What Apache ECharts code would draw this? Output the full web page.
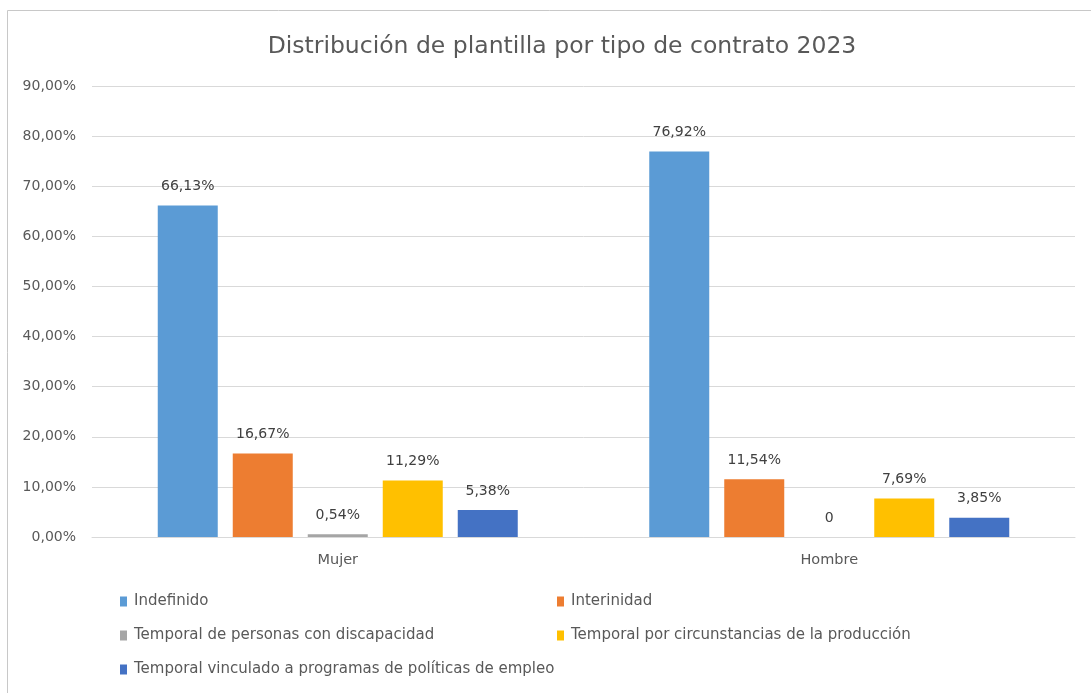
<!DOCTYPE html>
<html>
<head>
<meta charset="utf-8">
<script src="https://cdn.jsdelivr.net/npm/echarts@6/dist/echarts.min.js"></script>
<style>
  html, body { margin: 0; padding: 0; background: #fff; }
  #main { width: 1091px; height: 693px; }
</style>
</head>
<body>
<div id="main"></div>
<script>
// datos del gráfico
const categories = ['Mujer', 'Hombre']
const seriesNames = [
  'Indefinido',
  'Interinidad',
  'Temporal de personas con discapacidad',
  'Temporal por circunstancias de la producción',
  'Temporal vinculado a programas de políticas de empleo'
]
const indefinido = [66.13, 76.92]
const interinidad = [16.67, 11.54]
const discapacidad = [0.54, 0]
const circunstancias = [11.29, 7.69]
const politicasEmpleo = [5.38, 3.85]
const colors = ['#5B9BD5', '#ED7D31', '#A5A5A5', '#FFC000', '#4472C4']

const fontFamily = "'DejaVu Sans', sans-serif"
const textColor = '#595959'

const fmtPct = v => v.toFixed(2).replace('.', ',') + '%'

const myChart = echarts.init(document.getElementById('main'))

const seriesData = [indefinido, interinidad, discapacidad, circunstancias, politicasEmpleo]

// posiciones de la leyenda (2 columnas)
const legendPos = [
  [115, 589], [552, 589],
  [115, 623], [552, 623],
  [115, 657]
]

const option = {
  backgroundColor: '#fff',
  textStyle: { fontFamily: fontFamily },
  title: {
    text: 'Distribución de plantilla por tipo de contrato 2023',
    left: 557,
    top: 30,
    textAlign: 'center',
    textStyle: {
      fontFamily: fontFamily,
      fontSize: 23.5,
      fontWeight: 'normal',
      color: textColor
    }
  },
  graphic: [
    {
      type: 'rect',
      shape: { x: 7.5, y: 10.5, width: 1200, height: 800 },
      style: { fill: 'none', stroke: '#c8c8c8', lineWidth: 1 },
      silent: true
    }
  ],
  legend: seriesNames.map((name, i) => ({
    data: [name],
    left: legendPos[i][0],
    top: legendPos[i][1],
    icon: 'rect',
    itemWidth: 7,
    itemHeight: 10,
    itemGap: 4,
    selectedMode: false,
    textStyle: { color: textColor, fontSize: 15, fontFamily: fontFamily, padding: [0, 0, 0, 2] }
  })),
  grid: {
    left: 92,
    right: 16,
    top: 86,
    bottom: 156,
    containLabel: false
  },
  xAxis: {
    type: 'category',
    data: categories,
    axisLine: { lineStyle: { color: '#d9d9d9' } },
    axisTick: { show: false },
    axisLabel: { color: textColor, fontSize: 14.5, margin: 16 }
  },
  yAxis: {
    type: 'value',
    min: 0,
    max: 90,
    interval: 10,
    axisLine: { show: false },
    axisTick: { show: false },
    splitLine: { lineStyle: { color: '#d9d9d9' } },
    axisLabel: {
      color: textColor,
      fontSize: 14,
      margin: 16,
      formatter: v => fmtPct(v)
    }
  },
  series: seriesNames.map((name, i) => ({
    name: name,
    type: 'bar',
    data: seriesData[i],
    barWidth: 60,
    barGap: '25%',
    itemStyle: { color: colors[i] },
    label: {
      show: true,
      position: 'top',
      distance: 12,
      color: '#404040',
      fontSize: 14,
      formatter: p => (p.value === 0 ? '0' : fmtPct(p.value))
    }
  }))
}

myChart.setOption(option)
</script>
</body>
</html>
